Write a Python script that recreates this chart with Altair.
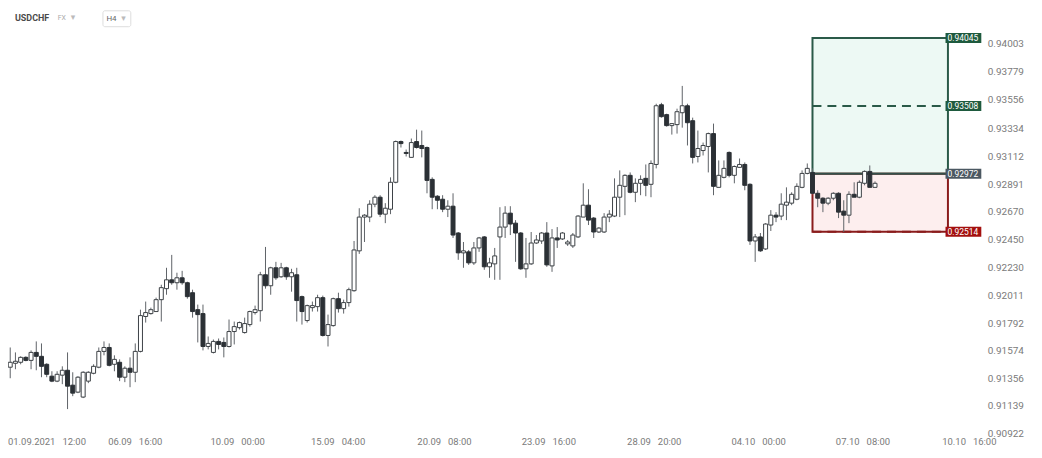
import altair as alt
import pandas as pd

# ---- candle data (USDCHF, H4) ----
opens = [0.91638, 0.91443, 0.91474, 0.91482, 0.91521, 0.91497, 0.91560, 0.91529, 0.91466, 0.91372,
         0.91333, 0.91380, 0.91419, 0.91301, 0.91246, 0.91207, 0.91333, 0.91395, 0.91443, 0.91568,
         0.91599, 0.91466, 0.91482, 0.91364, 0.91435, 0.91403, 0.91568, 0.91844, 0.91867, 0.91883,
         0.91977, 0.92064, 0.92134, 0.92111, 0.92150, 0.92111, 0.92032, 0.91898, 0.91867, 0.91607,
         0.91560, 0.91647, 0.91639, 0.91607, 0.91725, 0.91756, 0.91717, 0.91780, 0.91875, 0.91890,
         0.92174, 0.92087, 0.92229, 0.92158, 0.92229, 0.92158, 0.92174, 0.92001, 0.91812, 0.91914,
         0.91922, 0.91993, 0.91694, 0.91772, 0.91985, 0.91906, 0.91954, 0.92048, 0.92363, 0.92630,
         0.92630, 0.92732, 0.92787, 0.92653, 0.92692, 0.92905, 0.93227, 0.93141, 0.93102, 0.93227,
         0.93196, 0.93180, 0.92928, 0.92795, 0.92771, 0.92692, 0.92716, 0.92504, 0.92347, 0.92355,
         0.92268, 0.92386, 0.92473, 0.92237, 0.92260, 0.92473, 0.92551, 0.92661, 0.92582, 0.92504,
         0.92221, 0.92260, 0.92425, 0.92441, 0.92504, 0.92244, 0.92465, 0.92457, 0.92418, 0.92402,
         0.92473, 0.92630, 0.92724, 0.92622, 0.92512, 0.92512, 0.92630, 0.92638, 0.92787, 0.92873,
         0.92960, 0.92826, 0.92897, 0.92936, 0.92889, 0.93046, 0.93518, 0.93440, 0.93353, 0.93361,
         0.93455, 0.93510, 0.93392, 0.93109, 0.93156, 0.93188, 0.93290, 0.92865, 0.92944, 0.93141,
         0.92960, 0.93023, 0.93046, 0.92889, 0.92441, 0.92473, 0.92378, 0.92567, 0.92645, 0.92638,
         0.92724, 0.92740, 0.92771, 0.92865, 0.92975, 0.92983, 0.92818, 0.92779, 0.92740, 0.92779,
         0.92818, 0.92677, 0.92645, 0.92810, 0.92787, 0.92897, 0.92991, 0.92865]
highs = [0.91749, 0.91599, 0.91560, 0.91529, 0.91529, 0.91576, 0.91647, 0.91631, 0.91474, 0.91411,
         0.91411, 0.91450, 0.91560, 0.91403, 0.91372, 0.91411, 0.91411, 0.91466, 0.91599, 0.91647,
         0.91631, 0.91537, 0.91505, 0.91450, 0.91521, 0.91631, 0.91898, 0.91962, 0.91914, 0.91993,
         0.92095, 0.92229, 0.92331, 0.92190, 0.92205, 0.92119, 0.92056, 0.91938, 0.91938, 0.91686,
         0.91662, 0.91670, 0.91678, 0.91820, 0.91804, 0.91804, 0.91835, 0.91890, 0.91930, 0.92197,
         0.92394, 0.92237, 0.92276, 0.92268, 0.92237, 0.92221, 0.92229, 0.92009, 0.91938, 0.91962,
         0.92016, 0.92009, 0.91859, 0.91993, 0.92032, 0.91977, 0.92072, 0.92441, 0.92700, 0.92653,
         0.92763, 0.92803, 0.92803, 0.92740, 0.92944, 0.93235, 0.93235, 0.93164, 0.93251, 0.93321,
         0.93314, 0.93188, 0.92944, 0.92803, 0.92803, 0.92763, 0.92818, 0.92512, 0.92433, 0.92370,
         0.92433, 0.92473, 0.92480, 0.92308, 0.92386, 0.92708, 0.92716, 0.92716, 0.92606, 0.92512,
         0.92465, 0.92512, 0.92488, 0.92512, 0.92590, 0.92535, 0.92551, 0.92512, 0.92449, 0.92504,
         0.92645, 0.92897, 0.92850, 0.92630, 0.92551, 0.92661, 0.92685, 0.92936, 0.92999, 0.92968,
         0.92983, 0.92936, 0.92960, 0.93046, 0.93078, 0.93526, 0.93533, 0.93447, 0.93369, 0.93487,
         0.93667, 0.93526, 0.93416, 0.93314, 0.93219, 0.93298, 0.93369, 0.93078, 0.93078, 0.93149,
         0.93038, 0.93093, 0.93062, 0.92897, 0.92496, 0.92504, 0.92582, 0.92685, 0.92669, 0.92818,
         0.92865, 0.92826, 0.92897, 0.92999, 0.93054, 0.93015, 0.92842, 0.92787, 0.92787, 0.92826,
         0.92826, 0.92763, 0.92834, 0.92905, 0.92920, 0.92999, 0.93038, 0.92912]
lows = [0.91435, 0.91356, 0.91427, 0.91466, 0.91490, 0.91427, 0.91419, 0.91364, 0.91364, 0.91325,
        0.91325, 0.91309, 0.91112, 0.91214, 0.91238, 0.91199, 0.91317, 0.91387, 0.91435, 0.91537,
        0.91450, 0.91411, 0.91333, 0.91325, 0.91285, 0.91325, 0.91560, 0.91796, 0.91859, 0.91883,
        0.91804, 0.92016, 0.92095, 0.92056, 0.92095, 0.91985, 0.91835, 0.91639, 0.91576, 0.91584,
        0.91552, 0.91584, 0.91521, 0.91599, 0.91623, 0.91741, 0.91709, 0.91764, 0.91859, 0.91804,
        0.92064, 0.92016, 0.92134, 0.92150, 0.92134, 0.92040, 0.91804, 0.91780, 0.91796, 0.91883,
        0.91883, 0.91686, 0.91607, 0.91764, 0.91875, 0.91867, 0.91922, 0.92040, 0.92339, 0.92433,
        0.92590, 0.92708, 0.92630, 0.92582, 0.92653, 0.92897, 0.93180, 0.93109, 0.93102, 0.93172,
        0.93102, 0.92818, 0.92692, 0.92692, 0.92669, 0.92630, 0.92465, 0.92292, 0.92229, 0.92252,
        0.92252, 0.92355, 0.92213, 0.92150, 0.92134, 0.92134, 0.92465, 0.92488, 0.92276, 0.92213,
        0.92150, 0.92252, 0.92418, 0.92418, 0.92237, 0.92197, 0.92386, 0.92449, 0.92402, 0.92386,
        0.92465, 0.92630, 0.92567, 0.92465, 0.92504, 0.92504, 0.92590, 0.92630, 0.92630, 0.92645,
        0.92818, 0.92748, 0.92803, 0.92795, 0.92787, 0.93015, 0.93416, 0.93345, 0.93282, 0.93290,
        0.93337, 0.93196, 0.93054, 0.93062, 0.93117, 0.92983, 0.92803, 0.92865, 0.92936, 0.92944,
        0.92897, 0.93023, 0.92842, 0.92410, 0.92276, 0.92355, 0.92370, 0.92520, 0.92590, 0.92606,
        0.92606, 0.92724, 0.92763, 0.92858, 0.92968, 0.92810, 0.92708, 0.92669, 0.92724, 0.92763,
        0.92622, 0.92512, 0.92582, 0.92787, 0.92779, 0.92881, 0.92865, 0.92865]
closes = [0.91443, 0.91482, 0.91490, 0.91521, 0.91497, 0.91560, 0.91529, 0.91450, 0.91387, 0.91333,
          0.91387, 0.91419, 0.91293, 0.91238, 0.91364, 0.91403, 0.91403, 0.91450, 0.91568, 0.91599,
          0.91458, 0.91505, 0.91364, 0.91435, 0.91403, 0.91568, 0.91851, 0.91875, 0.91898, 0.91977,
          0.92072, 0.92134, 0.92111, 0.92150, 0.92111, 0.92001, 0.91883, 0.91859, 0.91607, 0.91631,
          0.91647, 0.91623, 0.91607, 0.91725, 0.91764, 0.91796, 0.91788, 0.91883, 0.91898, 0.92174,
          0.92087, 0.92229, 0.92150, 0.92229, 0.92158, 0.92190, 0.91970, 0.91883, 0.91930, 0.91930,
          0.91993, 0.91694, 0.91780, 0.91985, 0.91906, 0.91954, 0.92056, 0.92370, 0.92630, 0.92645,
          0.92732, 0.92787, 0.92653, 0.92700, 0.92905, 0.93227, 0.93211, 0.93133, 0.93219, 0.93180,
          0.93172, 0.92920, 0.92787, 0.92763, 0.92692, 0.92716, 0.92488, 0.92347, 0.92363, 0.92268,
          0.92386, 0.92465, 0.92237, 0.92268, 0.92323, 0.92551, 0.92661, 0.92575, 0.92504, 0.92221,
          0.92260, 0.92425, 0.92449, 0.92504, 0.92252, 0.92465, 0.92449, 0.92504, 0.92433, 0.92488,
          0.92638, 0.92724, 0.92606, 0.92512, 0.92543, 0.92630, 0.92653, 0.92787, 0.92881, 0.92960,
          0.92826, 0.92897, 0.92928, 0.92881, 0.93054, 0.93510, 0.93424, 0.93353, 0.93369, 0.93463,
          0.93510, 0.93376, 0.93102, 0.93172, 0.93196, 0.93290, 0.92873, 0.92960, 0.93015, 0.92960,
          0.93030, 0.93046, 0.92881, 0.92441, 0.92473, 0.92363, 0.92575, 0.92645, 0.92630, 0.92732,
          0.92748, 0.92810, 0.92873, 0.92975, 0.93015, 0.92818, 0.92779, 0.92740, 0.92779, 0.92818,
          0.92669, 0.92645, 0.92810, 0.92787, 0.92905, 0.92991, 0.92865, 0.92897]

# x-axis labels (candle index position, text); the first one is left-aligned at the edge
x_label_pos = [0.5725, 25.0, 44.66, 63.93, 84.35, 104.39, 124.62, 144.66, 164.69, 185.11]
x_label_align = ["left", "center", "center", "center", "center", "center", "center",
                 "center", "center", "center"]
x_label_text = ["01.09.2021\u00a0\u00a0\u00a012:00", "06.09\u00a0\u00a0\u00a016:00",
                "10.09\u00a0\u00a0\u00a000:00", "15.09\u00a0\u00a0\u00a004:00",
                "20.09\u00a0\u00a0\u00a008:00", "23.09\u00a0\u00a0\u00a016:00",
                "28.09\u00a0\u00a0\u00a020:00", "04.10\u00a0\u00a0\u00a000:00",
                "07.10\u00a0\u00a0\u00a008:00", "10.10\u00a0\u00a0\u00a016:00"]
# y-axis tick values
y_ticks = [0.94003, 0.93779, 0.93556, 0.93334, 0.93112, 0.92891, 0.92670, 0.92450,
           0.92230, 0.92011, 0.91792, 0.91574, 0.91356, 0.91139, 0.90922]

# trade box
entry = 0.92972
tp1 = 0.93508
tp2 = 0.94045
sl = 0.92514
box_start = 155
box_end = 181

FONT = "Roboto"
W, H = 982, 429
xs = alt.Scale(domain=[0.5725, 187.978], nice=False, zero=False, padding=0)
ys = alt.Scale(domain=[0.909007, 0.942726], nice=False, zero=False, padding=0)
YAX = alt.Axis(orient="right", values=y_ticks, format=".5f", labelAlign="left",
               labelPadding=3, ticks=False, domain=False, grid=False, labelOverlap=False,
               labelColor="#7a7a7a", labelFontSize=10, labelFont=FONT, title=None)

df = pd.DataFrame({"i": list(range(len(opens))), "open": opens, "high": highs,
                   "low": lows, "close": closes})
df["up"] = df["close"] >= df["open"]

X = alt.X("i:Q", scale=xs, axis=None)

# boxes
boxes = pd.DataFrame({
    "x": [box_start, box_start], "x2": [box_end, box_end],
    "y": [entry, sl], "y2": [tp2, entry],
    "fill": ["#edf9f4", "#fdeeee"], "stroke": ["#2a5a48", "#8a1c1c"],
})
box_layer = alt.Chart(boxes).mark_rect(strokeWidth=2).encode(
    x=alt.X("x:Q", scale=xs, axis=None), x2="x2:Q",
    y=alt.Y("y:Q", scale=ys, axis=YAX), y2="y2:Q",
    fill=alt.Fill("fill:N", scale=None),
    stroke=alt.Stroke("stroke:N", scale=None),
)

dashed = pd.DataFrame({"x": [box_start] * 3, "x2": [box_end] * 3,
                       "level": [tp2, tp1, sl],
                       "color": ["#2a5a48", "#2a5a48", "#8a1c1c"]})
dash_layer = alt.Chart(dashed).mark_rule(strokeWidth=2, strokeDash=[9, 6]).encode(
    x=alt.X("x:Q", scale=xs, axis=None), x2="x2:Q",
    y=alt.Y("level:Q", scale=ys, axis=YAX), color=alt.Color("color:N", scale=None),
)

entry_df = pd.DataFrame({"x": [box_start], "x2": [box_end], "level": [entry]})
entry_layer = alt.Chart(entry_df).mark_rule(strokeWidth=2, color="#33504a").encode(
    x=alt.X("x:Q", scale=xs, axis=None), x2="x2:Q",
    y=alt.Y("level:Q", scale=ys, axis=YAX),
)

# candles
wicks = alt.Chart(df).mark_rule(strokeWidth=1, color="#5f6368").encode(
    x=X, y=alt.Y("low:Q", scale=ys, axis=YAX), y2="high:Q",
)
bodies = alt.Chart(df).mark_bar(size=4, strokeWidth=1).encode(
    x=X, y=alt.Y("open:Q", scale=ys, axis=YAX), y2="close:Q",
    fill=alt.condition("datum.up", alt.value("#ffffff"), alt.value("#2b3035")),
    stroke=alt.condition("datum.up", alt.value("#3c4146"), alt.value("#2b3035")),
)

# level tags
tags = pd.DataFrame({"level": [tp2, tp1, entry, sl],
                     "txt": ["0.94045", "0.93508", "0.92972", "0.92514"],
                     "color": ["#1e5a3e", "#1e5a3e", "#4b5862", "#a3100f"]})
tag_box = alt.Chart(tags).mark_rule(strokeWidth=10, strokeCap="butt").encode(
    x=alt.value(943), x2=alt.value(979), y=alt.Y("level:Q", scale=ys, axis=YAX),
    color=alt.Color("color:N", scale=None),
)
tag_txt = alt.Chart(tags).mark_text(align="left", baseline="middle", fontSize=8.5,
                                    font=FONT, color="#ffffff").encode(
    x=alt.value(945), y=alt.Y("level:Q", scale=ys, axis=YAX), text="txt:N",
)

# x labels
xl = pd.DataFrame({"pos": x_label_pos, "label": x_label_text, "al": x_label_align})
xlab_left = alt.Chart(xl).transform_filter("datum.al == 'left'").mark_text(
    baseline="middle", align="left", fontSize=9.5, font=FONT, color="#7a7a7a").encode(
    x=alt.X("pos:Q", scale=xs, axis=None), y=alt.value(H + 6), text="label:N",
)
xlab = alt.Chart(xl).transform_filter("datum.al == 'center'").mark_text(
    baseline="middle", align="center", fontSize=9.5, font=FONT, color="#7a7a7a").encode(
    x=alt.X("pos:Q", scale=xs, axis=None), y=alt.value(H + 6), text="label:N",
)

# header
one = pd.DataFrame({"k": [0]})
h_sym = alt.Chart(one).mark_text(text="USDCHF", align="left", baseline="middle",
                                 fontSize=9, fontWeight="bold", font=FONT,
                                 color="#4a4a4a").encode(x=alt.value(7), y=alt.value(9))
h_fx = alt.Chart(one).mark_text(text="FX", align="left", baseline="middle",
                                fontSize=7, font=FONT, color="#aaaaaa").encode(
    x=alt.value(50), y=alt.value(9))
h_c1 = alt.Chart(one).mark_text(text="\u25be", align="left", baseline="middle",
                                fontSize=9, font="DejaVu Sans", color="#bbbbbb").encode(
    x=alt.value(63), y=alt.value(8))
h_box = alt.Chart(one).mark_rect(fill="#ffffff", stroke="#dddddd", strokeWidth=1,
                                 cornerRadius=2).encode(
    x=alt.value(95.5), x2=alt.value(123.5), y=alt.value(1.5), y2=alt.value(17.5))
h_h4 = alt.Chart(one).mark_text(text="H4", align="left", baseline="middle",
                                fontSize=8, font=FONT, color="#666666").encode(
    x=alt.value(99), y=alt.value(9.5))
h_c2 = alt.Chart(one).mark_text(text="\u25be", align="left", baseline="middle",
                                fontSize=9, font="DejaVu Sans", color="#bbbbbb").encode(
    x=alt.value(114), y=alt.value(8.5))

chart = alt.layer(
    box_layer, dash_layer, entry_layer, wicks, bodies, tag_box, tag_txt, xlab_left, xlab,
    h_sym, h_fx, h_c1, h_box, h_h4, h_c2,
).properties(
    width=W, height=H,
    autosize=alt.AutoSizeParams(type="none"),
    padding={"left": 0, "top": 0, "right": 50, "bottom": 20},
    background="#ffffff",
).configure_view(strokeWidth=0, stroke=None).configure_axis(labelOverlap=False)

chart.save("out.html", embed_options={"renderer": "svg", "actions": False})
